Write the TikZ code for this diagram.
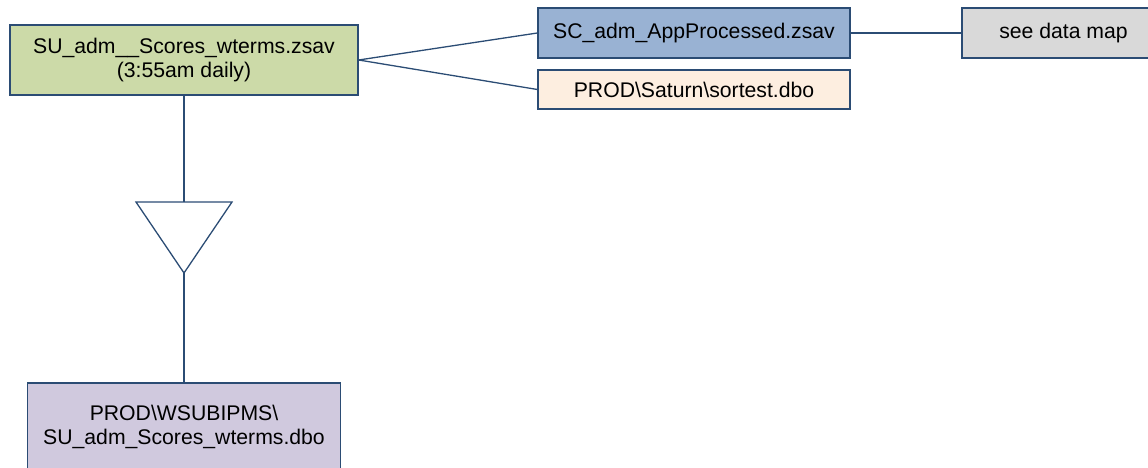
\documentclass[tikz,border=0pt]{standalone}
\usepackage{fontspec}
\setmainfont{Liberation Sans}
\begin{document}
\begin{tikzpicture}[x=1pt,y=-1pt,
  box/.style={draw=lineblue, line width=1.3pt, rectangle, inner sep=0pt, align=center,
    font=\fontsize{21.2}{24.5}\selectfont},
  conn/.style={draw=lineblue, line width=1.3pt}]
\definecolor{lineblue}{HTML}{2B4C74}
\definecolor{gfill}{HTML}{CCDAA8}
\definecolor{bfill}{HTML}{99B2D3}
\definecolor{pfill}{HTML}{FDEEE0}
\definecolor{grfill}{HTML}{D9D9D9}
\definecolor{vfill}{HTML}{D0C9DE}
\useasboundingbox (0,0) rectangle (1148,468);
\node[box, fill=gfill, minimum width=348pt, minimum height=70pt] (g) at (184,60)
  {SU\_adm\_\_Scores\_wterms.zsav\\(3:55am daily)};
\node[box, fill=bfill, minimum width=312pt, minimum height=50pt] (b) at (694,33)
  {SC\_adm\_AppProcessed.zsav};
\node[box, fill=pfill, minimum width=312pt, minimum height=39pt] (p) at (694,89.5)
  {PROD\textbackslash Saturn\textbackslash sortest.dbo};
\node[box, fill=grfill, minimum width=203pt, minimum height=50pt] (s) at (1063.5,33)
  {see data map};
\node[box, fill=vfill, minimum width=313pt, minimum height=88pt] (v) at (184,427)
  {PROD\textbackslash WSUBIPMS\textbackslash\\SU\_adm\_Scores\_wterms.dbo};
\coordinate (tl) at (136,202);
\coordinate (tr) at (232,202);
\coordinate (tt) at (184,202);
\coordinate (ta) at (184,273);
\draw[conn, line join=miter] (tl) -- (tr) -- (ta) -- cycle;
\draw[conn] (g.south) -- (tt);
\draw[conn] (ta) -- (v.north);
\draw[conn] (g.east) -- (b.west);
\draw[conn] (g.east) -- (p.west);
\draw[conn] (b.east) -- (s.west);
\end{tikzpicture}
\end{document}
